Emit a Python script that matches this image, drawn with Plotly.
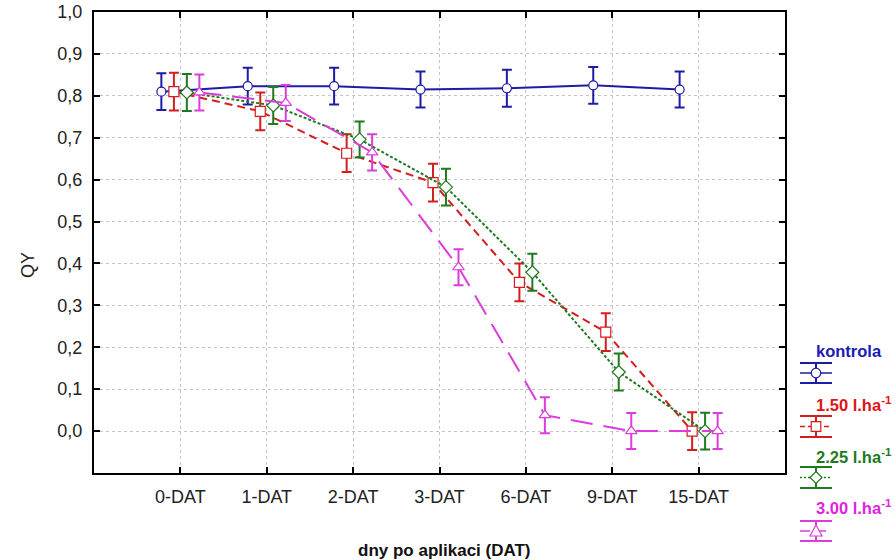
import plotly.graph_objects as go

# ---------------- data ----------------
categories = ["0-DAT", "1-DAT", "2-DAT", "3-DAT", "6-DAT", "9-DAT", "15-DAT"]
kontrola = [0.810, 0.823, 0.823, 0.815, 0.818, 0.825, 0.815]
kontrola_err = [0.044, 0.044, 0.044, 0.043, 0.044, 0.044, 0.043]
dose_150 = [0.810, 0.763, 0.663, 0.593, 0.355, 0.236, 0.000]
dose_150_err = [0.045, 0.045, 0.045, 0.045, 0.045, 0.045, 0.045]
dose_225 = [0.808, 0.777, 0.696, 0.582, 0.379, 0.141, 0.000]
dose_225_err = [0.044, 0.044, 0.043, 0.044, 0.044, 0.044, 0.044]
dose_300 = [0.808, 0.783, 0.665, 0.391, 0.038, 0.000, 0.000]
dose_300_err = [0.043, 0.043, 0.043, 0.043, 0.043, 0.043, 0.043]
y_ticks = [0.0, 0.1, 0.2, 0.3, 0.4, 0.5, 0.6, 0.7, 0.8, 0.9, 1.0]

series_names = ["kontrola", "1.50 l.ha<sup>-1</sup>", "2.25 l.ha<sup>-1</sup>", "3.00 l.ha<sup>-1</sup>"]
series_values = [kontrola, dose_150, dose_225, dose_300]
series_errors = [kontrola_err, dose_150_err, dose_225_err, dose_300_err]

# ---------------- styles ----------------
FONT = "Liberation Sans, Arial, sans-serif"
colors = ["#1c1ca6", "#d41e1e", "#1e7a1e", "#dc3cdc"]
text_colors = ["#1a1ab4", "#e01414", "#1e7a1e", "#e024e0"]
dashes = ["solid", "8px,5px", "3px,2px", "22px,11px"]
symbols = ["circle", "square", "diamond", "triangle-up"]
msizes = [9, 10, 10, 10]
offsets = [-0.22, -0.075, 0.075, 0.22]

fig = go.Figure()
for i in range(4):
    xs = [k + offsets[i] for k in range(len(categories))]
    fig.add_trace(go.Scatter(
        x=xs, y=series_values[i], mode="lines+markers",
        name=series_names[i], showlegend=False,
        line=dict(color=colors[i], width=2, dash=dashes[i]),
        marker=dict(symbol=symbols[i], size=msizes[i], color="white",
                    line=dict(color=colors[i], width=1.2)),
        error_y=dict(type="data", array=series_errors[i], visible=True,
                     color=colors[i], thickness=2, width=5),
    ))

# ---------------- layout geometry (pixels) ----------------
L, T, W, H = 94, 12, 691, 461
FW, FH = 895, 560


def fx(px):
    return (px - L) / W


def fy(py):
    return (T + H - py) / H


axis_common = dict(
    showgrid=True, gridcolor="#c4c4c4", griddash="dot", gridwidth=1,
    ticks="inside", ticklen=6, tickwidth=1.5, tickcolor="black",
    showline=True, linecolor="black", linewidth=2, mirror="ticks",
    zeroline=False, tickfont=dict(family=FONT, size=18, color="#222222"),
)

fig.update_layout(
    width=FW, height=FH,
    margin=dict(l=L, r=FW - L - W, t=T, b=FH - T - H, autoexpand=False),
    plot_bgcolor="white", paper_bgcolor="white",
    separators=",.",
    font=dict(family=FONT),
    xaxis=dict(range=[-1, 7], tickmode="array",
               tickvals=list(range(len(categories))), ticktext=categories,
               ticklabelstandoff=6, **axis_common),
    yaxis=dict(range=[-0.1, 1.0], tickmode="array", tickvals=y_ticks,
               tickformat=".1f", ticklabelstandoff=6, **axis_common),
)

annotations = [
    dict(text="QY", x=fx(28), y=fy(265), xref="paper", yref="paper",
         textangle=-90, showarrow=False, xanchor="center", yanchor="middle",
         font=dict(family=FONT, size=18, color="#222222")),
    dict(text="<b>dny po aplikaci (DAT)</b>", x=fx(444), y=fy(550),
         xref="paper", yref="paper", showarrow=False,
         xanchor="center", yanchor="middle",
         font=dict(family=FONT, size=17, color="#111111")),
]

# custom legend (text above glyph, like the original)
legend_text_y = [351, 404, 456, 507]
legend_glyph_y = [373, 426.5, 477.5, 531]
legend_half_h = [10, 10.5, 10.5, 10]
gx0, gx1 = 800, 832
gcx = (gx0 + gx1) / 2
shapes = []
for i in range(4):
    annotations.append(dict(
        text="<b>" + series_names[i] + "</b>", x=fx(814), y=fy(legend_text_y[i]),
        xref="paper", yref="paper", showarrow=False,
        xanchor="left", yanchor="middle",
        font=dict(family=FONT, size=16.5, color=text_colors[i])))
    cy = legend_glyph_y[i]
    hh = legend_half_h[i]
    c = colors[i]
    dash = {"solid": "solid", "8px,5px": "5px,3px", "3px,2px": "2px,2px",
            "22px,11px": "10px,6px"}[dashes[i]]
    for yy in (cy - hh, cy + hh):
        shapes.append(dict(type="line", xref="paper", yref="paper",
                           x0=fx(gx0), x1=fx(gx1), y0=fy(yy), y1=fy(yy),
                           line=dict(color=c, width=2)))
    shapes.append(dict(type="line", xref="paper", yref="paper",
                       x0=fx(gcx), x1=fx(gcx), y0=fy(cy - hh), y1=fy(cy + hh),
                       line=dict(color=c, width=2)))
    shapes.append(dict(type="line", xref="paper", yref="paper",
                       x0=fx(gx0), x1=fx(gx1), y0=fy(cy), y1=fy(cy),
                       line=dict(color=c, width=1.5, dash=dash)))
    r = 4.8
    if symbols[i] == "circle":
        shapes.append(dict(type="circle", xref="paper", yref="paper",
                           x0=fx(gcx - r), x1=fx(gcx + r), y0=fy(cy + r), y1=fy(cy - r),
                           fillcolor="white", line=dict(color=c, width=1.2)))
    elif symbols[i] == "square":
        shapes.append(dict(type="rect", xref="paper", yref="paper",
                           x0=fx(gcx - r), x1=fx(gcx + r), y0=fy(cy + r), y1=fy(cy - r),
                           fillcolor="white", line=dict(color=c, width=1.2)))
    elif symbols[i] == "diamond":
        p = "M {},{} L {},{} L {},{} L {},{} Z".format(
            fx(gcx), fy(cy - 6), fx(gcx + 6), fy(cy), fx(gcx), fy(cy + 6), fx(gcx - 6), fy(cy))
        shapes.append(dict(type="path", xref="paper", yref="paper", path=p,
                           fillcolor="white", line=dict(color=c, width=1.2)))
    else:
        p = "M {},{} L {},{} L {},{} Z".format(
            fx(gcx), fy(cy - 6), fx(gcx + 6), fy(cy + 5), fx(gcx - 6), fy(cy + 5))
        shapes.append(dict(type="path", xref="paper", yref="paper", path=p,
                           fillcolor="white", line=dict(color=c, width=1.2)))

fig.update_layout(annotations=annotations, shapes=shapes)
fig.write_html(
    "out.html",
    config={"displayModeBar": False},
    post_script="document.body.style.margin='0';document.body.style.overflow='hidden';",
)
